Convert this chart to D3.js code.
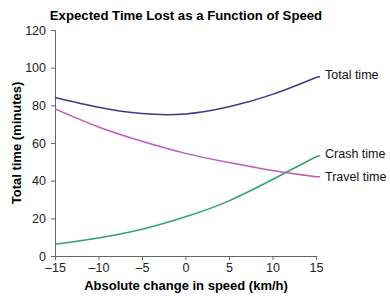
<!DOCTYPE html>
<html lang="en">
<head>
  <meta charset="utf-8">
  <title>Expected Time Lost as a Function of Speed</title>
  <script src="https://cdn.jsdelivr.net/npm/d3@7/dist/d3.min.js"></script>
  <style>
    body { margin: 0; background: #fff; }
    svg { display: block; font-family: "Liberation Sans", Arial, sans-serif; }
  </style>
</head>
<body>
  <svg id="chart" width="390" height="296"></svg>

  <script>
    // ── data ──
    const speedChange = [-15, -10, -5, 0, 5, 10, 15];
    const totalTime   = [84.2, 79.0, 75.6, 75.4, 79.2, 85.8, 94.8];
    const travelTime  = [78.1, 68.5, 60.9, 54.5, 49.6, 45.4, 42.1];
    const crashTime   = [6.2, 9.6, 14.2, 20.8, 29.3, 40.6, 52.7];
    const xTicks = [-15, -10, -5, 0, 5, 10, 15];
    const yTicks = [0, 20, 40, 60, 80, 100, 120];

    const series = [
      { name: 'Total time',  values: totalTime,  color: '#3b3b86' },
      { name: 'Crash time',  values: crashTime,  color: '#2fa36b' },
      { name: 'Travel time', values: travelTime, color: '#c25bb5' }
    ];

    const svg = d3.select('#chart');
    const x = d3.scaleLinear().domain([-15, 15]).range([55, 316]);
    const y = d3.scaleLinear().domain([0, 120]).range([256, 30]);

    // title
    svg.append('text')
      .attr('x', 186).attr('y', 20)
      .attr('text-anchor', 'middle')
      .attr('font-size', 13.2).attr('font-weight', 'bold')
      .text('Expected Time Lost as a Function of Speed');

    // axes
    const axisColor = '#666';
    const gx = svg.append('g')
      .attr('transform', `translate(0,${y(0)})`)
      .call(d3.axisBottom(x).tickValues(xTicks).tickSizeOuter(0).tickSize(4).tickPadding(3)
              .tickFormat(d => d < 0 ? '\u2013' + Math.abs(d) : d));
    const gy = svg.append('g')
      .attr('transform', `translate(${x(-15)},0)`)
      .call(d3.axisLeft(y).tickValues(yTicks).tickSizeOuter(0).tickSize(4).tickPadding(5));

    [gx, gy].forEach(g => {
      g.select('.domain').attr('stroke', axisColor);
      g.selectAll('.tick line').attr('stroke', axisColor);
      g.selectAll('.tick text')
        .attr('fill', '#222')
        .attr('font-size', 12.5)
        .attr('font-family', '"Liberation Sans", Arial, sans-serif');
    });

    // axis titles
    svg.append('text')
      .attr('x', 186).attr('y', 290)
      .attr('text-anchor', 'middle')
      .attr('font-size', 13).attr('font-weight', 'bold')
      .text('Absolute change in speed (km/h)');

    svg.append('text')
      .attr('transform', `translate(21,${(y(0) + y(120)) / 2}) rotate(-90)`)
      .attr('text-anchor', 'middle')
      .attr('font-size', 13).attr('font-weight', 'bold')
      .text('Total time (minutes)');

    // curves
    const line = d3.line()
      .x((d, i) => x(speedChange[i]))
      .y(d => y(d))
      .curve(d3.curveNatural);

    svg.append('g')
      .selectAll('path')
      .data(series)
      .join('path')
        .attr('fill', 'none')
        .attr('stroke', d => d.color)
        .attr('stroke-width', 1.5)
        .attr('d', d => line(d.values));

    // end labels
    const last = speedChange.length - 1;
    const labelY = { 'Total time': 75, 'Crash time': 154, 'Travel time': 177 };
    svg.append('g')
      .selectAll('text')
      .data(series)
      .join('text')
        .attr('x', 325)
        .attr('y', d => labelY[d.name])
        .attr('dy', '0.35em')
        .attr('font-size', 12.5)
        .attr('fill', '#111')
        .text(d => d.name);

    // short leader ticks from curve end to label
    svg.append('g')
      .selectAll('line')
      .data(series)
      .join('line')
        .attr('x1', x(15)).attr('y1', d => y(d.values[last]))
        .attr('x2', 320).attr('y2', d => labelY[d.name] + (y(d.values[last]) - labelY[d.name]) * 0.6)
        .attr('stroke', d => d.color)
        .attr('stroke-width', 1.5);
  </script>
</body>
</html>
